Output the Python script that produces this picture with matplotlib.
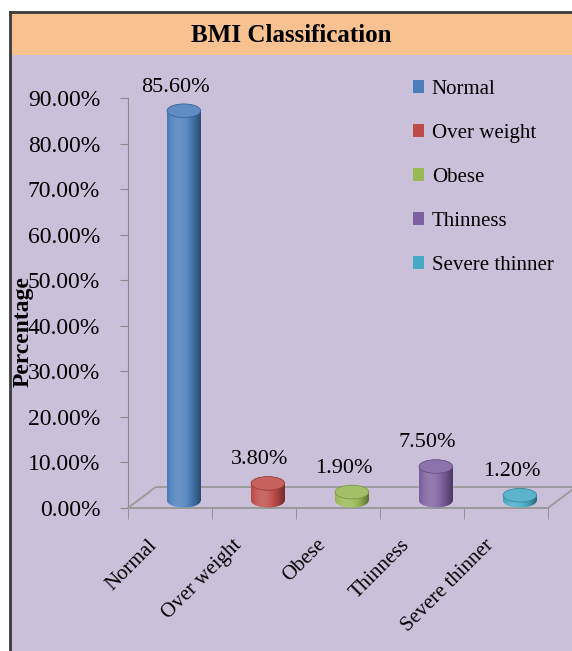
import matplotlib.pyplot as plt
import matplotlib.transforms as mtransforms
import numpy as np
from matplotlib.patches import Ellipse, Patch, Polygon, Rectangle
from matplotlib.colors import to_rgb

plt.rcParams['font.family'] = ['Liberation Serif', 'DejaVu Serif']

categories = ['Normal', 'Over weight', 'Obese', 'Thinness', 'Severe thinner']
values = [85.6, 3.8, 1.9, 7.5, 1.2]
colors = ['#4a7ebb', '#be4b48', '#98b954', '#7d60a0', '#46aac5']
yticks = [0, 10, 20, 30, 40, 50, 60, 70, 80, 90]

W, H = 572, 651
fig = plt.figure(figsize=(W / 100, H / 100), dpi=100)
fig.patch.set_facecolor('white')

# chart area background, title band and frame
fig.patches.append(Rectangle((10 / W, 0), 1, (H - 55) / H, transform=fig.transFigure,
                             facecolor='#cbc0da', edgecolor='none', zorder=-10))
fig.patches.append(Rectangle((10 / W, (H - 55) / H), 1, 43 / H, transform=fig.transFigure,
                             facecolor='#f8c290', edgecolor='none', zorder=-10))
fig.lines.append(plt.Line2D([10 / W, 10 / W], [0, (H - 12) / H], transform=fig.transFigure,
                            color='#3a3a3a', lw=2, zorder=5))
fig.lines.append(plt.Line2D([10 / W, 1], [(H - 12) / H, (H - 12) / H], transform=fig.transFigure,
                            color='#3a3a3a', lw=2, zorder=5))
fig.text(291 / W, 1 - 36 / H, 'BMI Classification', ha='center', va='center',
         fontsize=18, fontweight='bold')

ax = fig.add_axes([128 / W, (H - 508) / H, 420 / W, 410 / H])
ax.set_facecolor('none')
ax.set_xlim(-0.5, 4.5)
ax.set_ylim(0, 90)

# floor of the 3D plot
dx, dy = 0.33, 4.6
floor = Polygon([(-0.5, 0), (4.5, 0), (4.5 + dx, dy), (-0.5 + dx, dy)], closed=True,
                facecolor='none', edgecolor='#9a9a9a', lw=1.3, clip_on=False, zorder=1)
ax.add_patch(floor)


def shade(c, f):
    c = np.array(to_rgb(c))
    if f >= 1:
        return c + (1 - c) * (f - 1)
    return c * f


def cylinder(x, base, h, w, eh, color):
    prof = np.linspace(-1, 1, 64)
    fac = 0.62 + 0.55 * np.cos(np.clip((prof + 0.3) * 1.25, -1.6, 1.6))
    grad = np.array([[shade(color, f) for f in fac]])
    grad = np.clip(grad, 0, 1)

    low = Ellipse((x, base), w, eh, facecolor='none', edgecolor='none')
    ax.add_patch(low)
    im = ax.imshow(grad, extent=[x - w / 2, x + w / 2, base - eh / 2, base + eh / 2],
                   aspect='auto', zorder=3, interpolation='bilinear')
    im.set_clip_path(low)

    body = ax.bar(x, h, width=w, bottom=base, color='none', zorder=3)[0]
    im = ax.imshow(grad, extent=[x - w / 2, x + w / 2, base, base + h],
                   aspect='auto', zorder=3, interpolation='bilinear')
    im.set_clip_path(body)

    ax.add_patch(Ellipse((x, base + h), w, eh, facecolor=shade(color, 1.12),
                         edgecolor=shade(color, 0.8), lw=0.6, zorder=4))


xs = np.arange(len(categories))
base = 1.6
for i, (v, c) in enumerate(zip(values, colors)):
    cylinder(xs[i] + dx / 2, base, v, 0.4, 3.0, c)
    ax.annotate(f'{v:.2f}%', xy=(xs[i] + dx / 2, base + v), xytext=(-6, 17),
                textcoords='offset points', ha='center', va='center', fontsize=16)

ax.set_xlim(-0.5, 4.5)
ax.set_ylim(0, 90)

for s in ['top', 'right']:
    ax.spines[s].set_visible(False)
ax.spines['left'].set_color('#8a8a8a')
ax.spines['bottom'].set_color('#9a9a9a')
ax.spines['bottom'].set_linewidth(1.3)

ax.set_yticks(yticks)
ax.set_yticklabels([f'{t:.2f}%' for t in yticks])
ax.tick_params(axis='y', length=6, color='#8a8a8a', labelsize=17, pad=14)

ax.set_xticks(xs)
ax.set_xticks(np.arange(-0.5, 5, 1), minor=True)
ax.tick_params(axis='x', which='major', length=0, pad=4)
ax.tick_params(axis='x', which='minor', length=8, color='#8a8a8a')
ax.set_xticklabels(categories, rotation=45, ha='right', rotation_mode='anchor', fontsize=15)
shift = mtransforms.ScaledTranslation(-22 / 100, -22 / 100, fig.dpi_scale_trans)
for lbl in ax.get_xticklabels():
    lbl.set_transform(lbl.get_transform() + shift)

fig.text(23 / W, 1 - 332 / H, 'Percentage', rotation=90, ha='center', va='center',
         fontsize=17, fontweight='bold')

handles = [Patch(facecolor=c, edgecolor='none') for c in colors]
fig.legend(handles, categories, loc='upper left', bbox_to_anchor=(413 / W, 1 - 80 / H),
           frameon=False, fontsize=15, handlelength=0.55, handleheight=0.55,
           handletextpad=0.35, labelspacing=1.2, borderpad=0, borderaxespad=0)

fig.savefig('out.png', dpi=100)
